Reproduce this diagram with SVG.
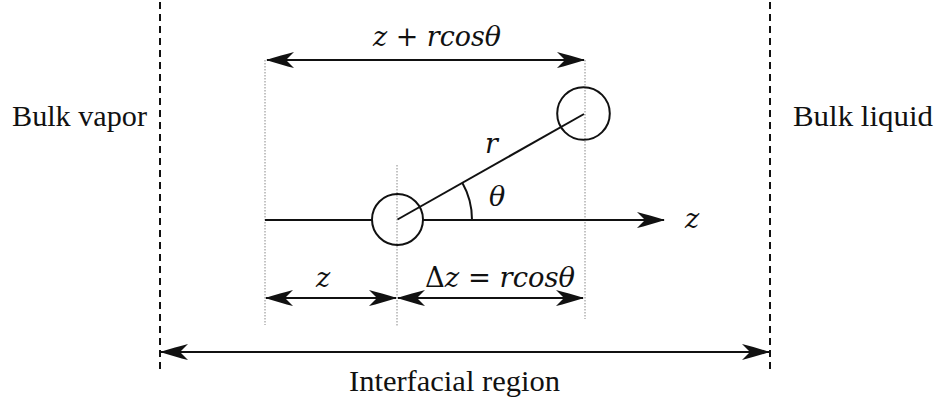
<svg xmlns="http://www.w3.org/2000/svg" width="938" height="404" viewBox="0 0 938 404">
<style>
.ln{stroke:#111;stroke-width:2;fill:none}
.dash{stroke:#111;stroke-width:2;stroke-dasharray:7 5;fill:none}
.dot{stroke:#888;stroke-width:1;stroke-dasharray:1.5 1.5;fill:none}
.lbl{font-family:"Liberation Serif","Times New Roman",serif;font-size:30px;fill:#111}
.math{font-family:"DejaVu Serif","Liberation Serif",serif;font-style:italic;font-size:27px;fill:#111}
.up{font-style:normal}
</style>
<defs>
<marker id="ah" viewBox="0 0 28 16" refX="27" refY="8" markerWidth="28" markerHeight="16" markerUnits="userSpaceOnUse" orient="auto-start-reverse">
<path d="M28,8 Q12,3 0,0 L8,8 L0,16 Q12,13 28,8 Z" fill="#111"/>
</marker>
</defs>
<g id="boundaries">
<line class="dash" x1="160" y1="2" x2="160" y2="374"/>
<line class="dash" x1="770" y1="2" x2="770" y2="374"/>
</g>
<g id="guides">
<line class="dot" x1="265" y1="60" x2="265" y2="325"/>
<line class="dot" x1="397" y1="165" x2="397" y2="327"/>
<line class="dot" x1="585" y1="60" x2="585" y2="319"/>
</g>
<g id="connectors">
<line class="ln" x1="267" y1="60" x2="584" y2="60" marker-start="url(#ah)" marker-end="url(#ah)"/>
<line class="ln" x1="265" y1="220" x2="372" y2="220"/>
<line class="ln" x1="423" y1="220" x2="664" y2="220" marker-end="url(#ah)"/>
<line class="ln" x1="397.5" y1="219.5" x2="584" y2="114"/>
<path class="ln" d="M472,220 A74.5,74.5 0 0 0 462.3,182.8"/>
<line class="ln" x1="266" y1="298" x2="396" y2="298" marker-start="url(#ah)" marker-end="url(#ah)"/>
<line class="ln" x1="398" y1="298" x2="583" y2="298" marker-start="url(#ah)" marker-end="url(#ah)"/>
<line class="ln" x1="161" y1="352" x2="769" y2="352" marker-start="url(#ah)" marker-end="url(#ah)"/>
</g>
<g id="atom1">
<circle class="ln" cx="397.5" cy="219.5" r="25.5"/>
</g>
<g id="atom2">
<circle class="ln" cx="583.5" cy="113.5" r="26.3"/>
</g>
<g id="labels">
<text class="lbl" x="12" y="126" textLength="135" lengthAdjust="spacingAndGlyphs">Bulk vapor</text>
<text class="lbl" x="793" y="126" textLength="140" lengthAdjust="spacingAndGlyphs">Bulk liquid</text>
<text class="lbl" x="349" y="391" textLength="211" lengthAdjust="spacingAndGlyphs">Interfacial region</text>
<text class="math" x="373" y="46" textLength="128" lengthAdjust="spacingAndGlyphs">z <tspan class="up">+</tspan> rcosθ</text>
<text class="math" x="485" y="153">r</text>
<text class="math" x="489" y="206">θ</text>
<text class="math" x="685" y="228">z</text>
<text class="math" x="316" y="287">z</text>
<text class="math" x="425" y="287" textLength="150" lengthAdjust="spacingAndGlyphs"><tspan class="up">Δ</tspan>z <tspan class="up">=</tspan> rcosθ</text>
</g>
</svg>
